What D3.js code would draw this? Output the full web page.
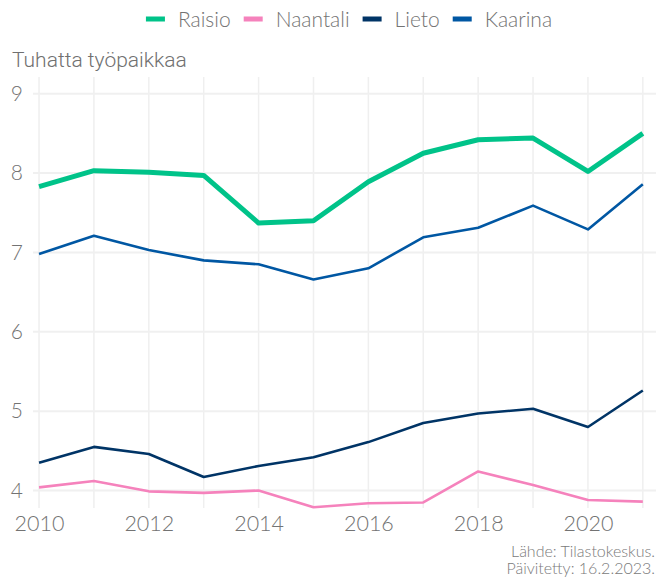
<!DOCTYPE html>
<html>
<head>
<meta charset="utf-8">
<script src="https://cdn.jsdelivr.net/npm/d3@7"></script>
<style>
  body { margin: 0; background: #fff; }
  svg { display: block; }
</style>
</head>
<body>
<div id="grafica"></div>
<script>
// datos
var years = [2010, 2011, 2012, 2013, 2014, 2015, 2016, 2017, 2018, 2019, 2020, 2021];
var raisio   = [7.83, 8.03, 8.01, 7.97, 7.37, 7.40, 7.89, 8.25, 8.42, 8.44, 8.02, 8.50];
var naantali = [4.04, 4.12, 3.99, 3.97, 4.00, 3.79, 3.84, 3.85, 4.24, 4.07, 3.88, 3.86];
var lieto    = [4.35, 4.55, 4.46, 4.17, 4.31, 4.42, 4.61, 4.85, 4.97, 5.03, 4.80, 5.26];
var kaarina  = [6.98, 7.21, 7.03, 6.90, 6.85, 6.66, 6.80, 7.19, 7.31, 7.59, 7.29, 7.86];
var seriesNames = ["Raisio", "Naantali", "Lieto", "Kaarina"];
var yTicks = [4, 5, 6, 7, 8, 9];
var xTicks = [2010, 2012, 2014, 2016, 2018, 2020];

var colors = { Raisio: "#00c389", Naantali: "#f582bc", Lieto: "#003466", Kaarina: "#0057a3" };
var widths = { Raisio: 5, Naantali: 2.6, Lieto: 2.6, Kaarina: 2.6 };
var values = { Raisio: raisio, Naantali: naantali, Lieto: lieto, Kaarina: kaarina };

var W = 666, H = 578;
var svg = d3.select("#grafica").append("svg")
  .attr("width", W).attr("height", H);

// escalas
var x = d3.scaleLinear().domain([2009.89, 2021.24]).range([33, 656]);
var y = d3.scaleLinear().domain([3.78, 9.21]).range([508, 77]);

// rejilla vertical (cada año)
svg.append("g").selectAll("line")
  .data(years).enter().append("line")
  .attr("x1", function(d) { return x(d); })
  .attr("x2", function(d) { return x(d); })
  .attr("y1", y.range()[1]).attr("y2", y.range()[0])
  .attr("stroke", "#efefef").attr("stroke-width", 1.5);

// rejilla horizontal
svg.append("g").selectAll("line")
  .data(yTicks).enter().append("line")
  .attr("x1", x.range()[0]).attr("x2", x.range()[1])
  .attr("y1", function(d) { return y(d); })
  .attr("y2", function(d) { return y(d); })
  .attr("stroke", "#f0f0f0").attr("stroke-width", 2);

// eje Y
var yAxis = svg.append("g")
  .attr("transform", "translate(23,0)")
  .call(d3.axisLeft(y).tickValues(yTicks).tickFormat(d3.format("d")).tickSize(0).tickPadding(0));
yAxis.select(".domain").remove();
yAxis.selectAll("text")
  .attr("font-family", "Lato, sans-serif").attr("font-size", 21).attr("font-weight", 300)
  .attr("fill", "#737373");

// eje X
var xAxis = svg.append("g")
  .attr("transform", "translate(0,508)")
  .call(d3.axisBottom(x).tickValues(xTicks).tickFormat(d3.format("d")).tickSize(0).tickPadding(8));
xAxis.select(".domain").remove();
xAxis.selectAll("text")
  .attr("font-family", "Lato, sans-serif").attr("font-size", 21.5).attr("font-weight", 300)
  .attr("fill", "#737373");

// lineas
var line = d3.line()
  .x(function(d, i) { return x(years[i]); })
  .y(function(d) { return y(d); });

["Lieto", "Naantali", "Kaarina", "Raisio"].forEach(function(name) {
  svg.append("path")
    .datum(values[name])
    .attr("d", line)
    .attr("fill", "none")
    .attr("stroke", colors[name])
    .attr("stroke-width", widths[name])
    .attr("stroke-linejoin", "round");
});

// titulo eje
svg.append("text")
  .attr("x", 12).attr("y", 67)
  .attr("font-family", "Roboto, sans-serif").attr("font-size", 21).attr("font-weight", 300)
  .attr("fill", "#707070")
  .text("Tuhatta työpaikkaa");

// leyenda
var legend = svg.append("g");
var lx = 0;
seriesNames.forEach(function(name) {
  var g = legend.append("g").attr("transform", "translate(" + lx + ",0)");
  g.append("rect").attr("x", 0).attr("y", 16.5).attr("width", 19).attr("height", 5)
    .attr("fill", colors[name]);
  var t = g.append("text").attr("x", 32).attr("y", 27)
    .attr("font-family", "Lato, sans-serif").attr("font-size", 21).attr("font-weight", 300)
    .attr("fill", "#737373").text(name);
  lx += 32 + t.node().getComputedTextLength() + 13;
});
var lw = lx - 13;
legend.attr("transform", "translate(" + (349 - lw / 2) + ",0)");

// fuente
var cap = svg.append("g").attr("font-family", "Lato, sans-serif").attr("font-size", 16)
  .attr("font-weight", 300).attr("fill", "#7a7a7a").attr("text-anchor", "end");
cap.append("text").attr("x", 655).attr("y", 556.5).text("Lähde: Tilastokeskus.");
cap.append("text").attr("x", 655).attr("y", 574).text("Päivitetty: 16.2.2023.");
</script>
</body>
</html>
